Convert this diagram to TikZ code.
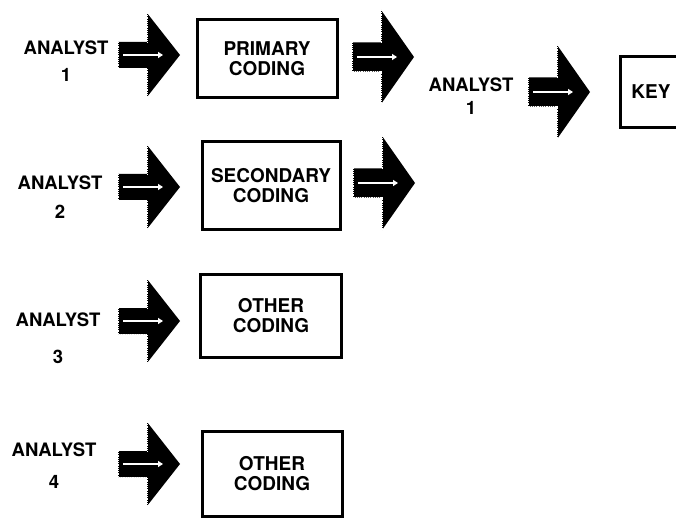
\documentclass[tikz,border=0pt]{standalone}
\usepackage{fontspec}
\setmainfont{TeX Gyre Heros}
\usetikzlibrary{positioning,arrows.meta}

\begin{document}
\begin{tikzpicture}[x=1pt,y=-1pt,
	label/.style={align=center, font=\bfseries\fontsize{18.5}{20}\selectfont},
	codebox/.style={draw, line width=3pt, align=center, inner sep=0pt, font=\bfseries\fontsize{19}{20}\selectfont},
	fatarrow/.pic={
		\fill (0,-13) -- (29,-13) -- (29,-42) -- (62,0) -- (29,42) -- (29,13) -- (0,13) -- cycle;
		\draw[white, densely dotted, line width=0.8pt] (29,-42) -- (29,-13) (0,-13) -- (0,13) -- (29,13) -- (29,42);
		\draw[white, line width=1.8pt, -{Triangle[length=5pt,width=6pt]}] (5,0) -- (45,0);
	}]
	\useasboundingbox (0,0) rectangle (676,518);
	\clip (0,0) rectangle (676,518);
	
	% analysts
	\node[label] (a1) at (66,61) {ANALYST\\[7pt]1};
	\node[label] (a2) at (60,197) {ANALYST\\[9pt]2};
	\node[label] (a3) at (58,338) {ANALYST\\[17pt]3};
	\node[label] (a4) at (54,466) {ANALYST\\[12pt]4};
	\node[label] (k1) at (471,96) {ANALYST\\[3pt]1};
	
	% codings
	\node[codebox, minimum width=140pt, minimum height=78pt] (primary) at (267,59) {PRIMARY\\CODING};
	\node[codebox, minimum width=138pt, minimum height=88pt] (secondary) at (271,186) {SECONDARY\\CODING};
	\node[codebox, minimum width=141pt, minimum height=83pt] (other3) at (271,316) {OTHER\\CODING};
	\node[codebox, minimum width=140pt, minimum height=85pt] (other4) at (272,474) {OTHER\\CODING};
	\node[codebox, minimum width=62pt, minimum height=71pt] (key) at (651,92) {KEY};
	
	% arrows
	\pic at (118,55) {fatarrow};
	\pic at (118,187) {fatarrow};
	\pic at (118,321) {fatarrow};
	\pic at (118,464) {fatarrow};
	\pic[yscale=1.12] at (352,57) {fatarrow};
	\pic[yscale=1.12] at (353,183) {fatarrow};
	\pic[yscale=1.12] at (528,92) {fatarrow};
\end{tikzpicture}
\end{document}
